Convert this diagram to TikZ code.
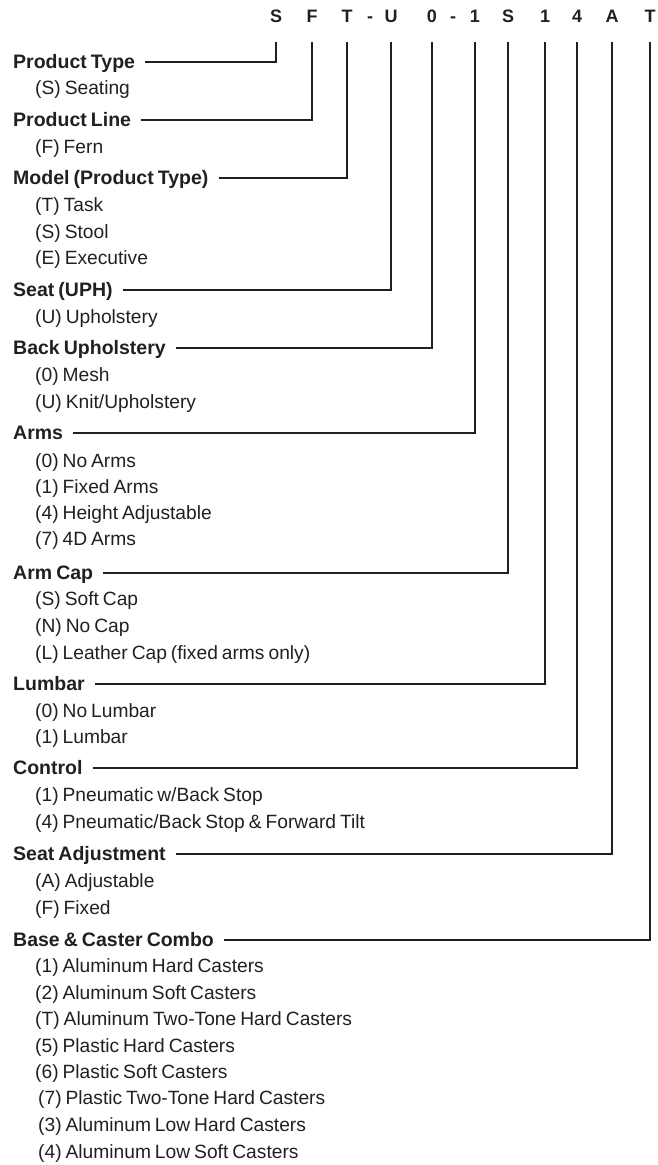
\documentclass[tikz,border=0pt]{standalone}
\usepackage{fontspec}
\setmainfont[WordSpace=0.75]{Liberation Sans}
\usepackage{xcolor}
\definecolor{ink}{HTML}{231F20}

\begin{document}
\begin{tikzpicture}[
    x=1pt, y=-1pt,
    every node/.style={text=ink},
    heading/.style={font=\bfseries\fontsize{19.5}{21}\selectfont, anchor=west, inner sep=0pt, text height=13pt, text depth=0pt},
    option/.style={font=\fontsize{19.2}{21}\selectfont, anchor=west, inner sep=0pt, text height=13pt, text depth=0pt},
    code/.style={font=\bfseries\fontsize{18}{20}\selectfont, inner sep=0pt, text height=13pt, text depth=0pt},
    leader/.style={draw=ink, line width=2pt, shorten <=10pt, shorten >=19.5pt}
]

\useasboundingbox (0,0) rectangle (657,1165);

% Model number
\node[code] (codeS) at (276,16) {S};
\node[code] (codeF) at (312,16) {F};
\node[code] (codeT) at (347,16) {T};
\node[code] (dash1) at (370,16) {-};
\node[code] (codeU) at (391,16) {U};
\node[code] (code0) at (432,16) {0};
\node[code] (dash2) at (453,16) {-};
\node[code] (code1) at (475,16) {1};
\node[code] (codeS2) at (508,16) {S};
\node[code] (code1b) at (545,16) {1};
\node[code] (code4) at (577,16) {4};
\node[code] (codeA) at (612,16) {A};
\node[code] (codeT2) at (650,16) {T};

% Product Type
\node[heading] (type) at (13,62) {Product Type};
\node[option] (typeS) at (35,88) {(S) Seating};

% Product Line
\node[heading] (line) at (13,120) {Product Line};
\node[option] (lineF) at (35,147) {(F) Fern};

% Model
\node[heading] (model) at (13,178) {Model (Product Type)};
\node[option] (modelT) at (35,205) {(T) Task};
\node[option] (modelS) at (35,232) {(S) Stool};
\node[option] (modelE) at (35,258) {(E) Executive};

% Seat
\node[heading] (seat) at (13,290) {Seat (UPH)};
\node[option] (seatU) at (35,317) {(U) Upholstery};

% Back Upholstery
\node[heading] (back) at (13,348) {Back Upholstery};
\node[option] (back0) at (35,375) {(0) Mesh};
\node[option] (backU) at (35,402) {(U) Knit/Upholstery};

% Arms
\node[heading] (arms) at (13,433) {Arms};
\node[option] (arms0) at (35,461) {(0) No Arms};
\node[option] (arms1) at (35,487) {(1) Fixed Arms};
\node[option] (arms4) at (35,513) {(4) Height Adjustable};
\node[option] (arms7) at (35,539) {(7) 4D Arms};

% Arm Cap
\node[heading] (cap) at (13,573) {Arm Cap};
\node[option] (capS) at (35,599) {(S) Soft Cap};
\node[option] (capN) at (35,626) {(N) No Cap};
\node[option] (capL) at (35,653) {(L) Leather Cap (fixed arms only)};

% Lumbar
\node[heading] (lumbar) at (13,684) {Lumbar};
\node[option] (lumbar0) at (35,711) {(0) No Lumbar};
\node[option] (lumbar1) at (35,737) {(1) Lumbar};

% Control
\node[heading] (control) at (13,768) {Control};
\node[option] (control1) at (35,795) {(1) Pneumatic w/Back Stop};
\node[option] (control4) at (35,822) {(4) Pneumatic/Back Stop \& Forward Tilt};

% Seat Adjustment
\node[heading] (adjust) at (13,854) {Seat Adjustment};
\node[option] (adjustA) at (35,881) {(A) Adjustable};
\node[option] (adjustF) at (35,908) {(F) Fixed};

% Base & Caster Combo
\node[heading] (base) at (13,940) {Base \& Caster Combo};
\node[option] (base1) at (35,966) {(1) Aluminum Hard Casters};
\node[option] (base2) at (35,993) {(2) Aluminum Soft Casters};
\node[option] (baseT) at (35,1019) {(T) Aluminum Two-Tone Hard Casters};
\node[option] (base5) at (35,1046) {(5) Plastic Hard Casters};
\node[option] (base6) at (35,1072) {(6) Plastic Soft Casters};
\node[option] (base7) at (38,1098) {(7) Plastic Two-Tone Hard Casters};
\node[option] (base3) at (38,1125) {(3) Aluminum Low Hard Casters};
\node[option] (base4) at (38,1152) {(4) Aluminum Low Soft Casters};

% Leader lines
\draw[leader] (type.east) -| (codeS.south);
\draw[leader] (line.east) -| (codeF.south);
\draw[leader] (model.east) -| (codeT.south);
\draw[leader] (seat.east) -| (codeU.south);
\draw[leader] (back.east) -| (code0.south);
\draw[leader] (arms.east) -| (code1.south);
\draw[leader] (cap.east) -| (codeS2.south);
\draw[leader] (lumbar.east) -| (code1b.south);
\draw[leader] (control.east) -| (code4.south);
\draw[leader] (adjust.east) -| (codeA.south);
\draw[leader] (base.east) -| (codeT2.south);

\end{tikzpicture}
\end{document}
